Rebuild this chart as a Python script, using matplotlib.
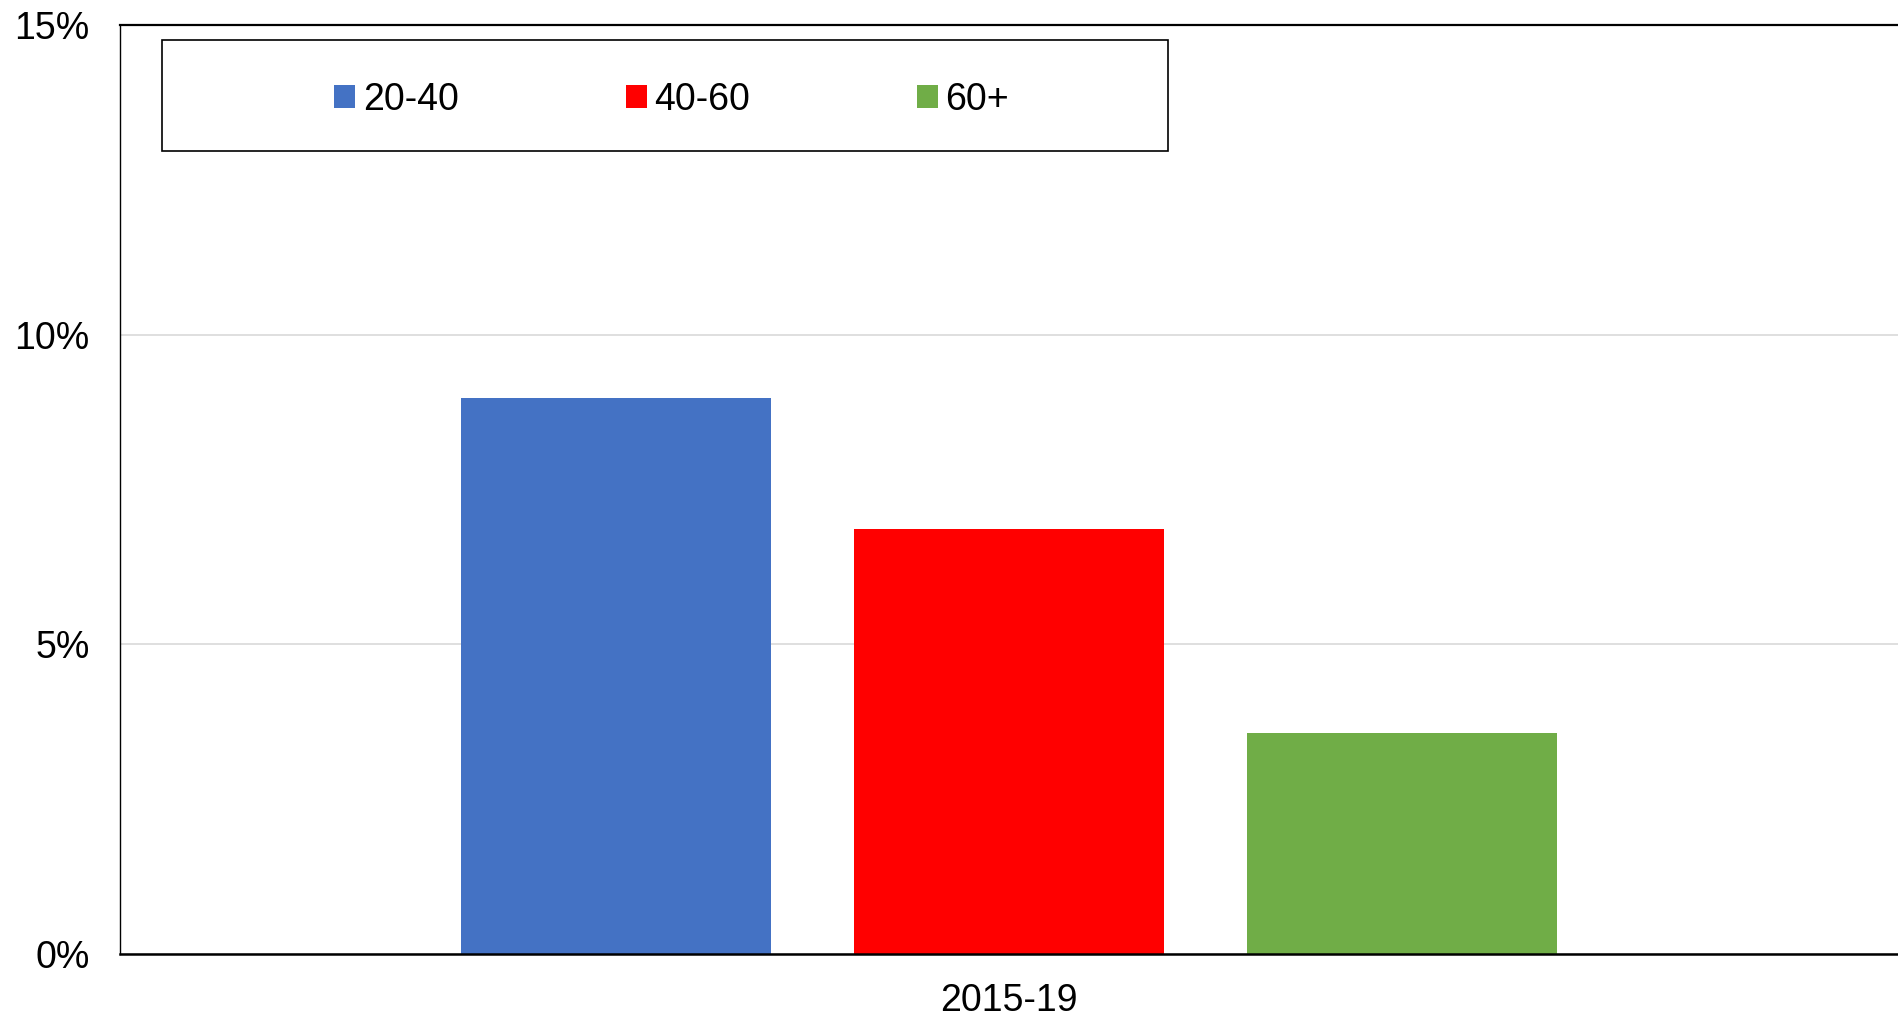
import matplotlib.pyplot as plt
from matplotlib.patches import Rectangle
from matplotlib.ticker import FuncFormatter

plt.rcParams["font.family"] = ["Liberation Sans", "DejaVu Sans"]

period = "2015-19"
groups = ["20-40", "40-60", "60+"]
shares = [8.98, 6.87, 3.57]
colors = ["#4472C4", "#FF0000", "#70AD47"]

fig = plt.figure(figsize=(18.98, 10.17), dpi=100)
ax = fig.add_axes([120 / 1898, 1 - 954 / 1017, 1 - 120 / 1898, (954 - 25) / 1017])

offsets = [-1, 0, 1]
for off, g, v, c in zip(offsets, groups, shares, colors):
    ax.bar(off, v, width=0.791, color=c, label=g, zorder=2)

ax.set_xlim(-2.262, 2.262)
ax.set_ylim(0, 15)
ax.set_yticks([0, 5, 10, 15])
ax.yaxis.set_major_formatter(FuncFormatter(lambda y, _: f"{y:.0f}%"))
ax.set_xticks([0])
ax.set_xticklabels([period])
ax.tick_params(axis="both", length=0, labelsize=27)
ax.tick_params(axis="y", pad=22)
ax.tick_params(axis="x", pad=21)
ax.grid(axis="y", color="#D9D9D9", linewidth=1.2, zorder=0)

ax.spines["right"].set_visible(False)
ax.spines["top"].set_linewidth(1.6)
ax.spines["bottom"].set_linewidth(1.8)
ax.spines["left"].set_linewidth(1.0)

# legend frame drawn separately, entries centered inside it
x0, x1 = 162 / 1898, 1168 / 1898
y0, y1 = 1 - 151 / 1017, 1 - 40 / 1017
fig.patches.append(Rectangle((x0, y0), x1 - x0, y1 - y0, transform=fig.transFigure,
                             facecolor="white", edgecolor="black", linewidth=1.2, zorder=5))
leg = fig.legend(loc="center", bbox_to_anchor=((x0 + x1) / 2 + 0.0035, (y0 + y1) / 2 - 0.004),
                 ncol=3, frameon=False, fontsize=27, handlelength=0.56, handleheight=0.56,
                 handletextpad=0.2, columnspacing=4.45)
leg.set_zorder(6)

fig.savefig("out.png", dpi=100)
